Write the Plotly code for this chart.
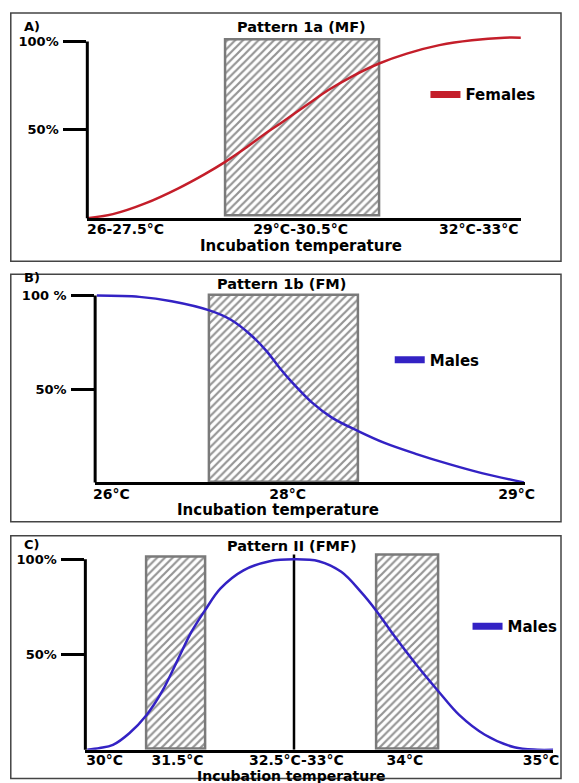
import plotly.graph_objects as go

# the page body keeps an 8px margin, so the figure is made to fit the 579x783 window exactly
PAGE_W, PAGE_H = 579, 783
OFF = 8
W, H = PAGE_W - 2 * OFF, PAGE_H - OFF

# ---------------- data (x in % of axis length, y in % of individuals) -------------
# Panel A  - Pattern 1a (MF), females
a_x = [0, 5.9, 13.5, 21.0, 27.0, 31.9, 36.0, 40.6, 45.1, 51.1, 55.6, 60.9, 67.3, 73.7, 81.2, 88.7, 96.2, 100]
a_y = [0, 2.3, 8.5, 16.9, 24.8, 32.0, 38.8, 47.1, 54.6, 64.9, 72.5, 80.0, 87.5, 93.1, 97.9, 100.7, 102.1, 102.1]
a_tickvals = [8.8, 49.2, 90.3]
a_ticktext = ["26-27.5°C", "29°C-30.5°C", "32°C-33°C"]
a_box_left, a_box_right, a_box_bottom, a_box_top = [31.9], [67.3], [1.5], [101.2]

# Panel B  - Pattern 1b (FM), males
b_x = [0.4, 10.3, 17.8, 26.6, 31.5, 36.1, 39.9, 42.9, 45.9, 50.5, 55.1, 61.1, 67.2, 74.8, 82.4, 90.0, 99.8]
b_y = [100, 99.3, 97.0, 92.1, 87.2, 79.2, 70.3, 61.4, 53.4, 42.7, 34.7, 27.6, 21.3, 15.2, 9.8, 5.0, 0]
b_tickvals = [3.8, 44.8, 98.1]
b_ticktext = ["26°C", "28°C", "29°C"]
b_box_left, b_box_right, b_box_bottom, b_box_top = [26.6], [61.1], [0.4], [100.5]

# Panel C  - Pattern II (FMF), males
c_x = [0.4, 3.1, 5.9, 9.4, 13.1, 16.4, 19.9, 22.7, 25.6, 28.9, 33.8, 39.4, 44.6, 49.9, 54.7, 58.9,
       62.1, 65.9, 70.8, 75.5, 79.9, 85.4, 91.7, 96.6, 100]
c_y = [0, 0.9, 2.6, 8.7, 18.3, 30.6, 48.0, 62.0, 73.3, 84.7, 94.2, 99.0, 100, 99.0, 93.4, 82.9,
       73.3, 60.2, 44.5, 30.6, 18.3, 7.9, 1.3, 0, 0]
c_tickvals = [4.1, 19.7, 45.1, 68.3, 97.4]
c_ticktext = ["30°C", "31.5°C", "32.5°C-33°C", "34°C", "35°C"]
c_box_left, c_box_right = [13.1, 62.1], [25.6, 75.5]
c_box_bottom, c_box_top = [0.5, 0.5], [101.3, 102.5]
c_divider_x, c_divider_top = [44.6], [102.5]

y_tickvals = [50, 100]
a_yticktext = ["50%", "100%"]
b_yticktext = ["50%", "100 %"]
c_yticktext = ["50%", "100%"]

RED = "#c41e2a"
BLUE = "#3322c4"
FONT = "DejaVu Sans"


def f(size, color="black"):
    return dict(family=FONT, size=size, color=color, weight="bold")


def px_x(p):  # page pixel -> paper fraction
    return (p - OFF) / W


def px_y(p):
    return 1 - (p - OFF) / H


fig = go.Figure()

pattern = dict(shape="/", fgcolor="#2a2a2a", bgcolor="white", size=5.5, solidity=0.4)


def add_boxes(lefts, rights, bottoms, tops, xa, ya):
    fig.add_trace(go.Bar(
        x=[(l + r) / 2 for l, r in zip(lefts, rights)],
        y=[t - b for b, t in zip(bottoms, tops)],
        base=bottoms,
        width=[r - l for l, r in zip(lefts, rights)],
        xaxis=xa, yaxis=ya,
        marker=dict(color="white", line=dict(color="#7a7a7a", width=2.5), pattern=pattern),
        showlegend=False, hoverinfo="skip",
    ))


add_boxes(a_box_left, a_box_right, a_box_bottom, a_box_top, "x", "y")
add_boxes(b_box_left, b_box_right, b_box_bottom, b_box_top, "x2", "y2")
add_boxes(c_box_left, c_box_right, c_box_bottom, c_box_top, "x3", "y3")

# divider line in panel C
fig.add_trace(go.Scatter(x=c_divider_x * 2, y=[0] + c_divider_top, mode="lines",
                         line=dict(color="black", width=2.5), xaxis="x3", yaxis="y3",
                         showlegend=False, hoverinfo="skip"))

# curves
fig.add_trace(go.Scatter(x=a_x, y=a_y, mode="lines", line=dict(color=RED, width=2.5, shape="spline"),
                         xaxis="x", yaxis="y", showlegend=False))
fig.add_trace(go.Scatter(x=b_x, y=b_y, mode="lines", line=dict(color=BLUE, width=2.5, shape="spline"),
                         xaxis="x2", yaxis="y2", showlegend=False))
fig.add_trace(go.Scatter(x=c_x, y=c_y, mode="lines", line=dict(color=BLUE, width=2.5, shape="spline"),
                         xaxis="x3", yaxis="y3", showlegend=False))

# legend entries
fig.add_trace(go.Scatter(x=[None], y=[None], mode="lines", name="Females", line=dict(color=RED, width=7),
                         xaxis="x", yaxis="y", legend="legend"))
fig.add_trace(go.Scatter(x=[None], y=[None], mode="lines", name="Males", line=dict(color=BLUE, width=7),
                         xaxis="x2", yaxis="y2", legend="legend2"))
fig.add_trace(go.Scatter(x=[None], y=[None], mode="lines", name="Males", line=dict(color=BLUE, width=7),
                         xaxis="x3", yaxis="y3", legend="legend3"))

# axes geometry (page pixels)
panels = {
    # name: (x_left, x_right, y_zero, y_hundred, ymax, tickvals, ticktext, yticktext, standoff)
    "1": (87, 530, 216.7, 39.5, 105, a_tickvals, a_ticktext, a_yticktext, -4),
    "2": (95, 534, 481.7, 294.3, 103, b_tickvals, b_ticktext, b_yticktext, -3),
    "3": (85, 563, 749.7, 558.7, 104, c_tickvals, c_ticktext, c_yticktext, -5),
}

layout_axes = {}
shapes = []
for k, (xl, xr, y0, y100, ymax, tv, tt, ytt, so) in panels.items():
    xn = "xaxis" if k == "1" else "xaxis" + k
    yn = "yaxis" if k == "1" else "yaxis" + k
    xa = "x" if k == "1" else "x" + k
    ya = "y" if k == "1" else "y" + k
    ppu = (y0 - y100) / 100.0
    ytop = y0 - ymax * ppu
    layout_axes[xn] = dict(domain=[px_x(xl), px_x(xr)], range=[0, 100], anchor=ya,
                           showline=True, linecolor="black", linewidth=3, ticks="",
                           tickvals=tv, ticktext=tt, tickfont=f(14), showgrid=False,
                           zeroline=False, fixedrange=True, ticklabelstandoff=so)
    layout_axes[yn] = dict(domain=[px_y(y0), px_y(ytop)], range=[0, ymax], anchor=xa,
                           showline=False, ticks="outside", ticklen=23, tickwidth=2.5,
                           tickcolor="black", tickvals=y_tickvals, ticktext=ytt,
                           tickfont=f(13), showgrid=False, zeroline=False, fixedrange=True,
                           ticklabelstandoff=2)
    shapes.append(dict(type="line", xref=xa + " domain", yref=ya, x0=0, x1=0, y0=-1.2, y1=100,
                       line=dict(color="black", width=3)))

# panel frames
for top, bottom in [(11, 260), (273, 521), (535, 778.5)]:
    shapes.append(dict(type="rect", xref="paper", yref="paper", x0=px_x(8.8), x1=1.0,
                       y0=px_y(bottom), y1=px_y(top), line=dict(color="#444444", width=1.5),
                       layer="below"))

annotations = []


def ann(text, x, y, size, xanchor="center"):
    annotations.append(dict(text=text, x=px_x(x), y=px_y(y), xref="paper", yref="paper",
                            showarrow=False, xanchor=xanchor, yanchor="middle", font=f(size)))


ann("A)", 20, 25, 13, "left")
ann("Pattern 1a (MF)", 306, 25, 14.5)
ann("Incubation temperature", 305, 245, 15)
ann("B)", 20, 276, 13, "left")
ann("Pattern 1b (FM)", 285, 283, 14.5)
ann("Incubation temperature", 282, 509, 15)
ann("C)", 20, 544, 13, "left")
ann("Pattern II (FMF)", 296, 545, 14.5)
ann("Incubation temperature", 296, 776, 14)

leg = dict(bgcolor="rgba(0,0,0,0)", borderwidth=0, font=f(15), xanchor="left", yanchor="middle",
           itemclick=False, itemdoubleclick=False)

fig.update_layout(
    width=W, height=H, margin=dict(l=0, r=0, t=0, b=0),
    paper_bgcolor="white", plot_bgcolor="white",
    font=f(14), barmode="overlay", bargap=0,
    showlegend=True,
    legend=dict(leg, x=px_x(432.5), y=px_y(93)),
    legend2=dict(leg, x=px_x(396), y=px_y(359)),
    legend3=dict(leg, x=px_x(475.5), y=px_y(626)),
    shapes=shapes, annotations=annotations,
    **layout_axes,
)

fig.write_html("out.html")
